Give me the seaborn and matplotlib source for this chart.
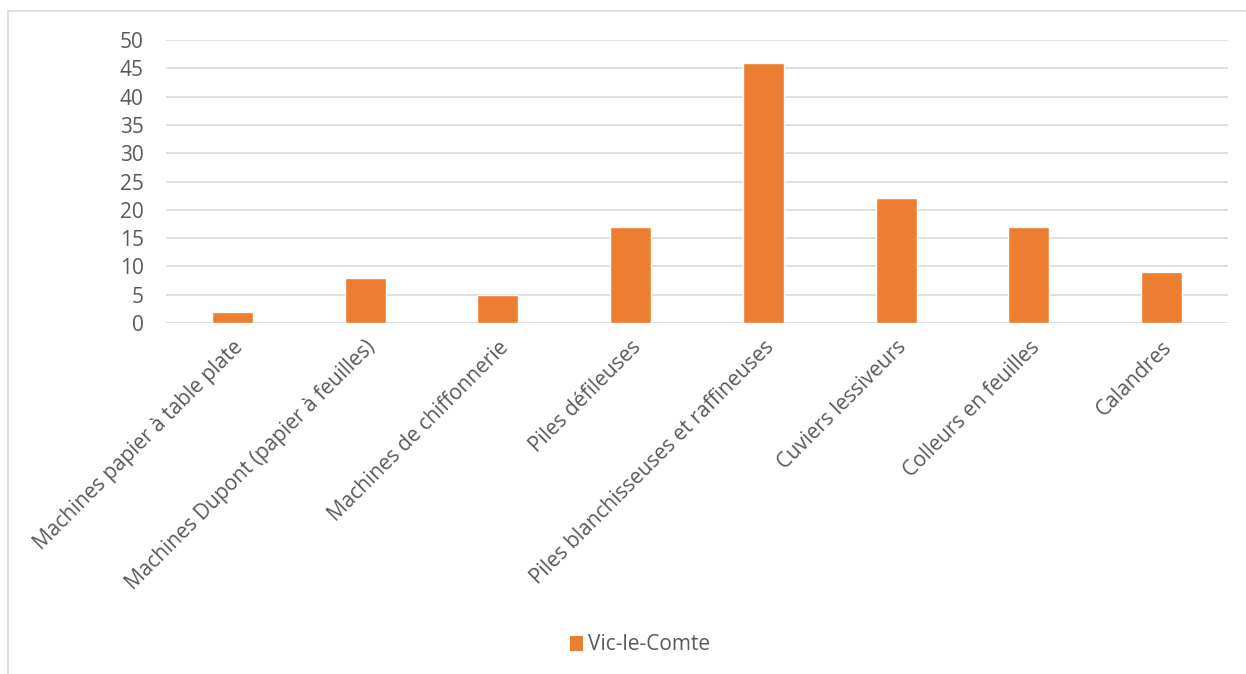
import matplotlib
matplotlib.use("Agg")
import matplotlib.pyplot as plt
import seaborn as sns
import pandas as pd
from matplotlib.patches import Rectangle, Patch

categories = ["Machines papier à table plate", "Machines Dupont (papier à feuilles)",
              "Machines de chiffonnerie", "Piles défileuses",
              "Piles blanchisseuses et raffineuses", "Cuviers lessiveurs",
              "Colleurs en feuilles", "Calandres"]
values = [2, 8, 5, 17, 46, 22, 17, 9]
series_name = "Vic-le-Comte"
yticks = [0, 5, 10, 15, 20, 25, 30, 35, 40, 45, 50]

sns.set_theme(style="white")
plt.rcParams['font.family'] = ['Open Sans', 'DejaVu Sans']

df = pd.DataFrame({"cat": categories, "val": values})

fig = plt.figure(figsize=(12.46, 6.74), dpi=100)
ax = fig.add_axes([166/1246, 1-323/674, (1228-166)/1246, (323-40)/674])

sns.barplot(data=df, x="cat", y="val", color="#ED7D31", width=0.31, ax=ax,
            saturation=1, zorder=3)

ax.set_ylim(0, 50)
ax.set_yticks(yticks)
ax.set_yticklabels([str(t) for t in yticks], fontsize=15, color="#595959")
ax.set_xlim(-0.5, len(categories) - 0.5)
ax.set_xticks(range(len(categories)))
ax.set_xticklabels(categories, rotation=45, ha="right", rotation_mode="anchor",
                   fontsize=15, color="#595959")
ax.set_xlabel("")
ax.set_ylabel("")
ax.grid(axis="y", color="#D9D9D9", linewidth=1.2, zorder=0)
for s in ax.spines.values():
    s.set_visible(False)
ax.tick_params(axis="y", length=0, pad=16)
ax.tick_params(axis="x", length=0, pad=10)

# chart area border
fig.patches.append(Rectangle((8/1246, -0.05), 1.2, 1 - 11/674 + 0.05,
                             transform=fig.transFigure, fill=False,
                             edgecolor="#D9D9D9", linewidth=1.2))

handle = Patch(facecolor="#ED7D31", edgecolor="none")
fig.legend([handle], [series_name], loc="center", bbox_to_anchor=(640/1246, 1-645/674),
           frameon=False, fontsize=15, labelcolor="#595959",
           handlelength=0.6, handleheight=0.7, handletextpad=0.25)

fig.savefig("out.png", dpi=100)
